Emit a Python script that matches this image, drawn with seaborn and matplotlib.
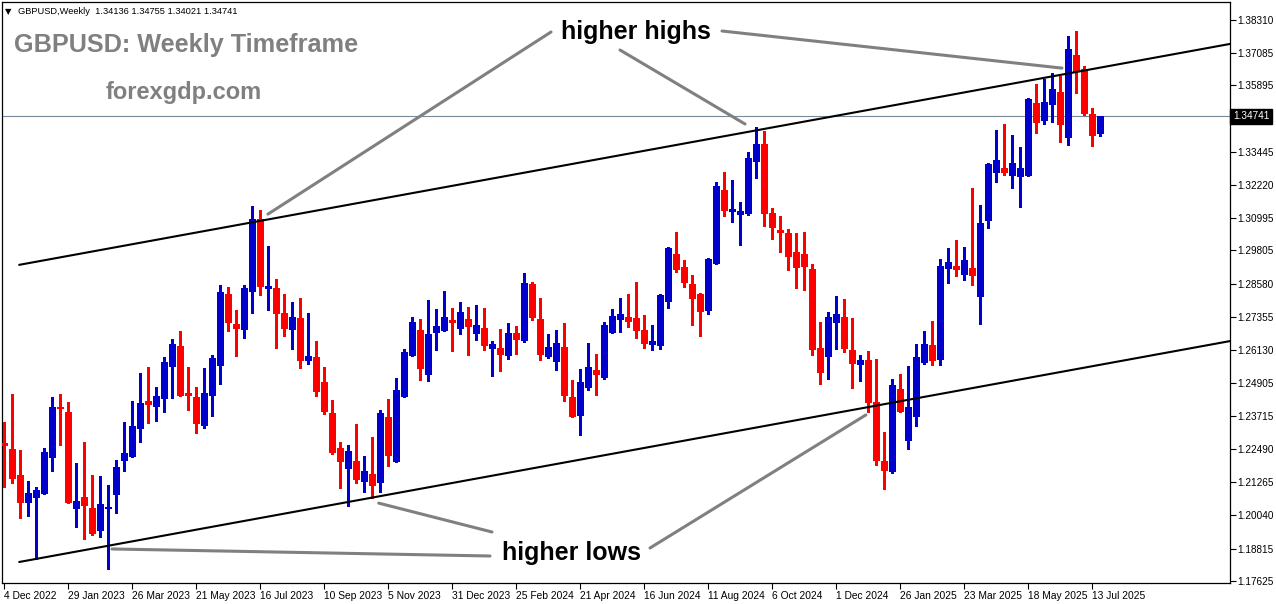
import matplotlib
matplotlib.use("Agg")
import matplotlib.pyplot as plt
import numpy as np
import pandas as pd
import seaborn as sns

# ---------------- data (GBPUSD weekly, from 4 Dec 2022) ----------------
opens = [1.2271, 1.2248, 1.2153, 1.2053, 1.2072, 1.2086, 1.2219, 1.2405, 1.2385, 1.2031,
         1.2072, 1.2031, 1.1950, 1.2031, 1.2083, 1.2208, 1.2223, 1.2326, 1.2425, 1.2407,
         1.2436, 1.2554, 1.2628, 1.2455, 1.2440, 1.2337, 1.2447, 1.2558, 1.2820, 1.2709,
         1.2691, 1.2831, 1.3096, 1.2842, 1.2842, 1.2750, 1.2691, 1.2731, 1.2576, 1.2588,
         1.2495, 1.2381, 1.2252, 1.2179, 1.2204, 1.2131, 1.2156, 1.2127, 1.2366, 1.2204,
         1.2444, 1.2595, 1.2687, 1.2525, 1.2680, 1.2687, 1.2724, 1.2694, 1.2727, 1.2676,
         1.2694, 1.2621, 1.2621, 1.2595, 1.2676, 1.2650, 1.2856, 1.2727, 1.2591, 1.2573,
         1.2624, 1.2440, 1.2374, 1.2477, 1.2540, 1.2514, 1.2680, 1.2727, 1.2735, 1.2731,
         1.2687, 1.2635, 1.2632, 1.2794, 1.2967, 1.2919, 1.2856, 1.2820, 1.2761, 1.2934,
         1.3203, 1.3125, 1.3114, 1.3118, 1.3310, 1.3372, 1.3118, 1.3055, 1.3044, 1.2974,
         1.2967, 1.2912, 1.2621, 1.2591, 1.2716, 1.2735, 1.2613, 1.2562, 1.2576, 1.2422,
         1.2204, 1.2167, 1.2469, 1.2282, 1.2370, 1.2569, 1.2632, 1.2580, 1.2915, 1.2923,
         1.2893, 1.2915, 1.2812, 1.3092, 1.3269, 1.3284, 1.3258, 1.3254, 1.3258, 1.3523,
         1.3461, 1.3520, 1.3564, 1.3398, 1.3700, 1.3649, 1.3483, 1.34136]
highs = [1.2348, 1.2451, 1.2245, 1.2131, 1.2108, 1.2252, 1.2440, 1.2451, 1.2422, 1.2197,
         1.2274, 1.2153, 1.2149, 1.2116, 1.2208, 1.2348, 1.2425, 1.2528, 1.2551, 1.2477,
         1.2588, 1.2654, 1.2683, 1.2551, 1.2477, 1.2547, 1.2595, 1.2853, 1.2845, 1.2761,
         1.2853, 1.3144, 1.3129, 1.2996, 1.2875, 1.2820, 1.2790, 1.2805, 1.2750, 1.2646,
         1.2551, 1.2429, 1.2274, 1.2263, 1.2341, 1.2223, 1.2292, 1.2392, 1.2433, 1.2510,
         1.2617, 1.2735, 1.2727, 1.2798, 1.2764, 1.2831, 1.2768, 1.2790, 1.2772, 1.2779,
         1.2768, 1.2646, 1.2691, 1.2713, 1.2702, 1.2897, 1.2864, 1.2805, 1.2672, 1.2687,
         1.2713, 1.2503, 1.2543, 1.2639, 1.2599, 1.2716, 1.2764, 1.2805, 1.2820, 1.2864,
         1.2742, 1.2705, 1.2820, 1.2993, 1.3048, 1.2945, 1.2890, 1.2824, 1.2951, 1.3232,
         1.3269, 1.3240, 1.3159, 1.3343, 1.3435, 1.3420, 1.3137, 1.3107, 1.3059, 1.3044,
         1.3048, 1.2930, 1.2716, 1.2753, 1.2812, 1.2801, 1.2731, 1.2595, 1.2610, 1.2580,
         1.2311, 1.2506, 1.2525, 1.2554, 1.2635, 1.2683, 1.2720, 1.2949, 1.2989, 1.3019,
         1.2993, 1.3210, 1.3148, 1.3302, 1.3424, 1.3446, 1.3406, 1.3361, 1.3542, 1.3593,
         1.3612, 1.3634, 1.3623, 1.3770, 1.3789, 1.3660, 1.3505, 1.34755]
lows = [1.2108, 1.2123, 1.1994, 1.2002, 1.1843, 1.2084, 1.2167, 1.2263, 1.2049, 1.1961,
        1.1917, 1.1932, 1.1925, 1.1806, 1.2013, 1.2167, 1.2219, 1.2274, 1.2344, 1.2352,
        1.2385, 1.2436, 1.2442, 1.2392, 1.2307, 1.2326, 1.2370, 1.2488, 1.2683, 1.2591,
        1.2657, 1.2750, 1.2816, 1.2761, 1.2621, 1.2665, 1.2617, 1.2547, 1.2562, 1.2444,
        1.2377, 1.2230, 1.2105, 1.2039, 1.2123, 1.2090, 1.2068, 1.2090, 1.2186, 1.2200,
        1.2440, 1.2591, 1.2503, 1.2499, 1.2613, 1.2683, 1.2610, 1.2672, 1.2595, 1.2650,
        1.2613, 1.2518, 1.2536, 1.2580, 1.2599, 1.2643, 1.2724, 1.2576, 1.2584, 1.2540,
        1.2425, 1.2366, 1.2300, 1.2466, 1.2447, 1.2506, 1.2676, 1.2680, 1.2698, 1.2657,
        1.2621, 1.2613, 1.2617, 1.2768, 1.2901, 1.2845, 1.2705, 1.2665, 1.2746, 1.2930,
        1.3107, 1.3085, 1.3000, 1.3110, 1.3247, 1.3070, 1.3022, 1.2974, 1.2908, 1.2842,
        1.2835, 1.2595, 1.2488, 1.2506, 1.2617, 1.2606, 1.2473, 1.2499, 1.2385, 1.2189,
        1.2101, 1.2160, 1.2385, 1.2248, 1.2333, 1.2562, 1.2558, 1.2558, 1.2860, 1.2886,
        1.2871, 1.2853, 1.2709, 1.3063, 1.3232, 1.3258, 1.3210, 1.3140, 1.3254, 1.3413,
        1.3446, 1.3453, 1.3380, 1.3369, 1.3560, 1.3479, 1.3365, 1.34021]
closes = [1.2262, 1.2142, 1.2053, 1.2086, 1.2097, 1.2237, 1.2403, 1.2399, 1.2053, 1.2057,
          1.2042, 1.1939, 1.2046, 1.2035, 1.2182, 1.2234, 1.2333, 1.2418, 1.2414, 1.2444,
          1.2569, 1.2635, 1.2447, 1.2447, 1.2344, 1.2455, 1.2584, 1.2827, 1.2716, 1.2694,
          1.2842, 1.3096, 1.2849, 1.2849, 1.2750, 1.2694, 1.2735, 1.2576, 1.2591, 1.2462,
          1.2388, 1.2237, 1.2204, 1.2241, 1.2138, 1.2167, 1.2116, 1.2381, 1.2226, 1.2466,
          1.2606, 1.2716, 1.2547, 1.2672, 1.2702, 1.2735, 1.2716, 1.2753, 1.2702, 1.2705,
          1.2632, 1.2635, 1.2599, 1.2676, 1.2654, 1.2860, 1.2735, 1.2599, 1.2624, 1.2639,
          1.2447, 1.2370, 1.2495, 1.2551, 1.2525, 1.2705, 1.2739, 1.2746, 1.2720, 1.2687,
          1.2639, 1.2646, 1.2816, 1.2989, 1.2912, 1.2864, 1.2805, 1.2757, 1.2949, 1.3218,
          1.3129, 1.3133, 1.3125, 1.3321, 1.3372, 1.3118, 1.3066, 1.3048, 1.2960, 1.2919,
          1.2921, 1.2617, 1.2532, 1.2735, 1.2746, 1.2621, 1.2565, 1.2576, 1.2422, 1.2208,
          1.2171, 1.2484, 1.2388, 1.2403, 1.2588, 1.2635, 1.2576, 1.2923, 1.2938, 1.2912,
          1.2945, 1.2890, 1.3081, 1.3299, 1.3313, 1.3269, 1.3302, 1.3284, 1.3538, 1.3453,
          1.3527, 1.3575, 1.3446, 1.3722, 1.3641, 1.3487, 1.3406, 1.34741]

date_ticks = [0, 8, 16, 24, 32, 40, 48, 56, 64, 72, 80, 88, 96, 104, 112, 120, 128, 136]
date_labels = ["4 Dec 2022", "29 Jan 2023", "26 Mar 2023", "21 May 2023", "16 Jul 2023",
               "10 Sep 2023", "5 Nov 2023", "31 Dec 2023", "25 Feb 2024", "21 Apr 2024",
               "16 Jun 2024", "11 Aug 2024", "6 Oct 2024", "1 Dec 2024", "26 Jan 2025",
               "23 Mar 2025", "18 May 2025", "13 Jul 2025"]
price_ticks = [1.38310, 1.37085, 1.35895, 1.33445, 1.32220, 1.30995, 1.29805, 1.28580,
               1.27355, 1.26130, 1.24905, 1.23715, 1.22490, 1.21265, 1.20040, 1.18815, 1.17625]
last_price = 1.34741

# channel lines (week index, price)
upper_channel_x = [1.96, 153.3]
upper_channel_y = [1.2927, 1.3741]
lower_channel_x = [1.96, 153.3]
lower_channel_y = [1.1832, 1.2646]

# annotation anchor points (week index, price)
hh_points = [(33.06, 1.3114), (92.69, 1.3446), (132.3, 1.3652)]
hl_points = [(46.9, 1.2049), (13.56, 1.1880), (107.8, 1.2374)]

# ---------------- build long-form tables ----------------
n = len(opens)
direction = ["up" if c >= o else "down" for o, c in zip(opens, closes)]

wick_rows = []
body_rows = []
for k in range(n):
    wick_rows.append((k, lows[k], direction[k]))
    wick_rows.append((k, highs[k], direction[k]))
    lo = min(opens[k], closes[k])
    hi = max(opens[k], closes[k])
    if hi - lo < 0.0004:
        mid = (hi + lo) / 2
        lo, hi = mid - 0.0002, mid + 0.0002
    body_rows.append((k, lo, direction[k]))
    body_rows.append((k, hi, direction[k]))
wicks = pd.DataFrame(wick_rows, columns=["week", "price", "dir"])
bodies = pd.DataFrame(body_rows, columns=["week", "price", "dir"])

palette = {"up": "#0000CD", "down": "#FF0000"}

# ---------------- figure ----------------
sns.set_style("white")
plt.rcParams["font.family"] = ["Liberation Sans", "DejaVu Sans"]

W, H = 1276, 604
fig = plt.figure(figsize=(W / 100, H / 100), dpi=100)
ax_l, ax_r, ax_t, ax_b = 2, 1230, 2, 583
ax = fig.add_axes([ax_l / W, (H - ax_b) / H, (ax_r - ax_l) / W, (ax_b - ax_t) / H])

ax.axhline(last_price, color="#778899", lw=0.8, zorder=1)

sns.lineplot(data=wicks, x="week", y="price", hue="dir", units="week", estimator=None,
             sort=False, palette=palette, linewidth=0.75, legend=False, ax=ax,
             antialiased=False, zorder=3)
sns.lineplot(data=bodies, x="week", y="price", hue="dir", units="week", estimator=None,
             sort=False, palette=palette, linewidth=3.7, legend=False, ax=ax,
             solid_capstyle="butt", antialiased=False, zorder=4)

sns.lineplot(x=upper_channel_x, y=upper_channel_y, color="black", linewidth=1.5, ax=ax, zorder=5)
sns.lineplot(x=lower_channel_x, y=lower_channel_y, color="black", linewidth=1.5, ax=ax, zorder=5)

# axes limits (pixel-aligned candles: x_px = 3.5 + 8*k)
ax.set_xlim((ax_l - 3.5) / 8, (ax_r - 3.5) / 8)
ax.set_ylim(1.17546, 1.38956)
ax.set_xlabel("")
ax.set_ylabel("")

# y axis on the right
ax.yaxis.tick_right()
ax.set_yticks(price_ticks)
ax.set_yticklabels([f"{v:.5f}" for v in price_ticks])
ax.tick_params(axis="y", which="both", right=True, left=False, length=4, width=0.8,
               pad=1.0, labelsize=7.2, colors="black", direction="out")
ax.set_xticks(date_ticks)
ax.set_xticklabels(date_labels)
ax.tick_params(axis="x", bottom=True, length=4, width=0.8, pad=1.5, labelsize=7.4,
               colors="black", direction="out")
for lbl in ax.get_xticklabels():
    lbl.set_ha("left")

for s in ax.spines.values():
    s.set_color("black")
    s.set_linewidth(0.9)
    s.set_visible(True)

# last price box
ax.text(1.0 + 3 / 1228, last_price, f"{last_price:.5f}", transform=ax.get_yaxis_transform(),
        color="white", fontsize=7.2, va="center", ha="left", zorder=10, clip_on=False,
        bbox=dict(boxstyle="square,pad=0.25", facecolor="black", edgecolor="black"))

def fx(px):
    return (px - ax_l) / (ax_r - ax_l)

def fy(py):
    return (ax_b - py) / (ax_b - ax_t)

# header
ax.text(fx(5), fy(14), "\u25BC", transform=ax.transAxes, fontsize=6,
        family=["DejaVu Sans"], va="baseline", ha="left", color="black")
ax.text(fx(18), fy(14), "GBPUSD,Weekly  1.34136 1.34755 1.34021 1.34741",
        transform=ax.transAxes, fontsize=6.7, va="baseline", ha="left", color="black")

# watermark titles
ax.text(fx(14), fy(52), "GBPUSD: Weekly Timeframe", transform=ax.transAxes,
        fontsize=18.2, fontweight="bold", color="#808080", va="baseline", ha="left")
ax.text(fx(106), fy(99), "forexgdp.com", transform=ax.transAxes,
        fontsize=17, fontweight="bold", color="#808080", va="baseline", ha="left")

# annotations
ax.text(fx(636), fy(39), "higher highs", transform=ax.transAxes, fontsize=18,
        fontweight="bold", color="black", va="baseline", ha="center", zorder=8)
ax.text(fx(571), fy(560), "higher lows", transform=ax.transAxes, fontsize=18,
        fontweight="bold", color="black", va="baseline", ha="center", zorder=8)

arrow = dict(arrowstyle="-", color="#808080", lw=2.2, shrinkA=0, shrinkB=0)
hh_text_ends = [(551, 32), (620, 50), (722, 31)]
hl_text_ends = [(492, 532), (490, 556), (650, 548)]
for (k, p), (tx, ty) in zip(hh_points, hh_text_ends):
    ax.annotate("", xy=(k, p), xycoords="data", xytext=(fx(tx), fy(ty)),
                textcoords="axes fraction", arrowprops=arrow, zorder=6)
for (k, p), (tx, ty) in zip(hl_points, hl_text_ends):
    ax.annotate("", xy=(k, p), xycoords="data", xytext=(fx(tx), fy(ty)),
                textcoords="axes fraction", arrowprops=arrow, zorder=6)

fig.savefig("out.png", dpi=100, facecolor="white")
